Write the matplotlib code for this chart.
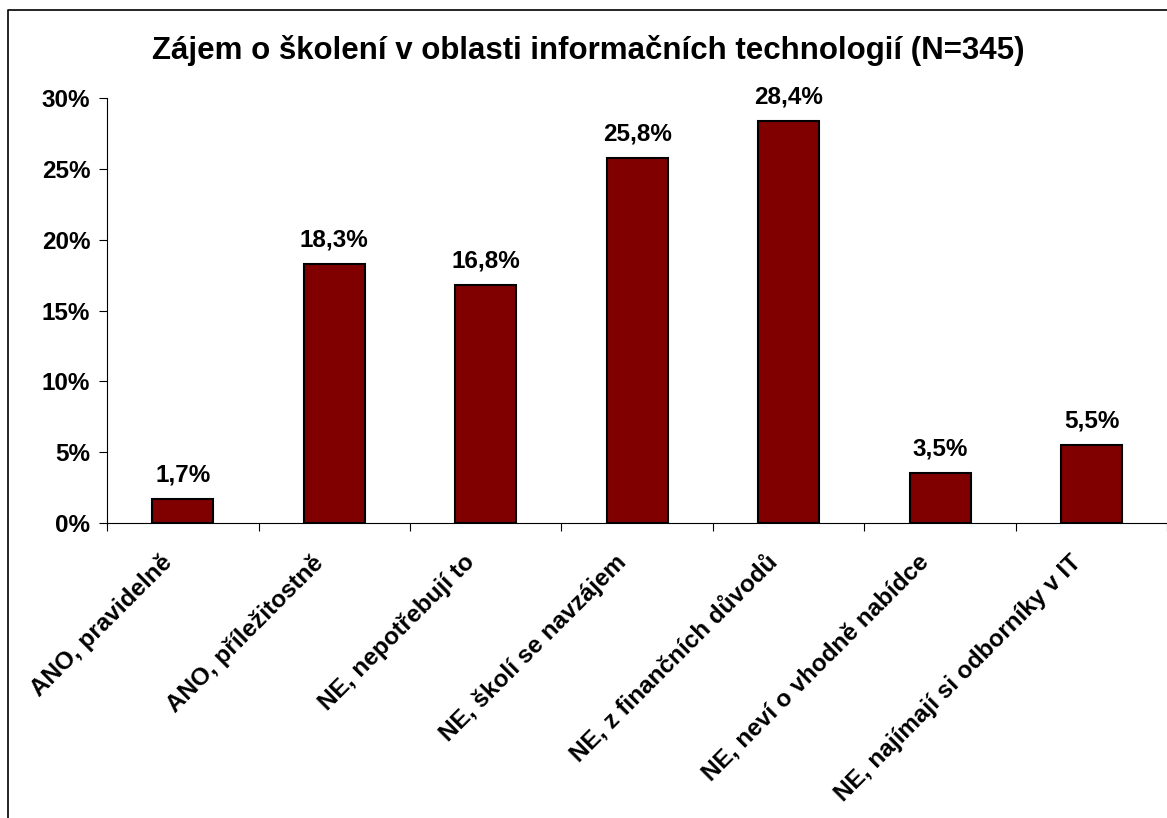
import numpy as np
import matplotlib.pyplot as plt
import matplotlib.transforms as mtransforms
from matplotlib.lines import Line2D
from matplotlib.ticker import FixedLocator, FuncFormatter

plt.rcParams['font.family'] = ['Liberation Sans', 'DejaVu Sans']
plt.rcParams['font.weight'] = 'bold'

## Data

categories = ['ANO, pravidelně', 'ANO, příležitostně', 'NE, nepotřebují to',
              'NE, školí se navzájem', 'NE, z finančních důvodů',
              'NE, neví o vhodně nabídce', 'NE, najímají si odborníky v IT']
values = [1.7, 18.3, 16.8, 25.8, 28.4, 3.5, 5.5]
yticks = [0, 5, 10, 15, 20, 25, 30]
title = 'Zájem o školení v oblasti informačních technologií (N=345)'

## Plot

fig = plt.figure(figsize=(11.67, 8.18), dpi=100)
ax = fig.add_axes([0.0917, 0.3606, 0.9087, 0.5196])

x = np.arange(len(categories))
ax.bar(x, values, width=0.4, color='#800000', edgecolor='black', linewidth=1.5)

for xi, v in zip(x, values):
    ax.annotate(f'{v:.1f}%'.replace('.', ','), (xi, v),
                xytext=(0, 9), textcoords='offset points',
                ha='center', va='bottom', fontsize=17.5, fontweight='bold')

ax.set_xlim(-0.5, len(categories) - 0.5)
ax.set_ylim(0, 30)
ax.set_yticks(yticks)
ax.yaxis.set_major_formatter(FuncFormatter(lambda v, p: f'{v:.0f}%'))
ax.tick_params(axis='y', length=6, width=0.8, pad=6, labelsize=17.5)

ax.set_xticks(x)
ax.set_xticklabels(categories, rotation=45, ha='right', fontsize=17.5,
                   fontweight='bold')
ax.tick_params(axis='x', which='major', length=0, pad=20)
shift = mtransforms.ScaledTranslation(-6 / 100, 0, fig.dpi_scale_trans)
for lab in ax.get_xticklabels():
    lab.set_transform(lab.get_transform() + shift)
ax.xaxis.set_minor_locator(FixedLocator(np.arange(len(categories) + 1) - 0.5))
ax.tick_params(axis='x', which='minor', length=6, width=0.8)

for s in ['top', 'right']:
    ax.spines[s].set_visible(False)
for s in ['left', 'bottom']:
    ax.spines[s].set_linewidth(0.8)

fig.text(0.504, 0.938, title, ha='center', va='center',
         fontsize=22.5, fontweight='bold')

# chart area frame
fig.add_artist(Line2D([0.0069, 0.0069, 1.01], [-0.01, 0.9878, 0.9878],
                      color='black', linewidth=1.2,
                      transform=fig.transFigure))

fig.savefig('out.png', dpi=100)
